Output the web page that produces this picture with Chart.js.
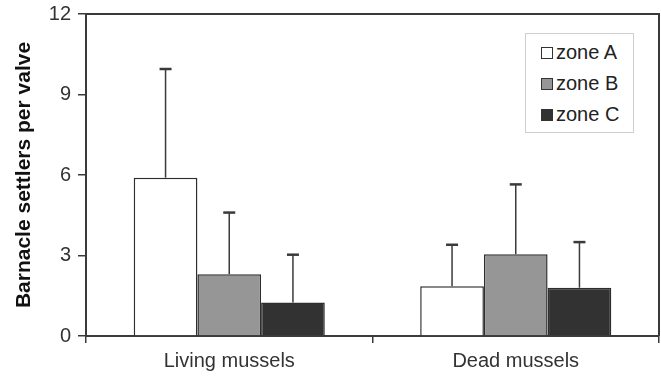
<!DOCTYPE html>
<html>
<head>
<meta charset="utf-8">
<script src="https://cdn.jsdelivr.net/npm/chart.js@4.4.1/dist/chart.umd.min.js"></script>
<style>
  html, body { margin: 0; padding: 0; background: #fff; }
  #wrap { position: relative; width: 661px; height: 380px; }
  #legend {
    position: absolute; left: 525px; top: 33px; width: 109px; height: 100px;
    border: 1px solid #cfcfcf; background: #fff; box-sizing: border-box;
    font-family: 'Liberation Sans', Arial, sans-serif; font-size: 20px; color: #222;
    padding-top: 3px;
  }
  #legend .row { display: flex; align-items: center; height: 31px; padding-left: 15px; }
  #legend .sw { width: 12px; height: 12px; border: 1.5px solid #333; box-sizing: border-box; margin-right: 3px; }
</style>
</head>
<body>
<div id="wrap">
  <canvas id="chart" width="661" height="380"></canvas>
  <div id="legend"></div>
</div>
<script>
const categories = ['Living mussels', 'Dead mussels'];
const zoneNames = ['zone A', 'zone B', 'zone C'];
const zoneA = [5.9, 1.85];
const zoneB = [2.3, 3.05];
const zoneC = [1.25, 1.8];
const errA = [4.05, 1.55];
const errB = [2.3, 2.6];
const errC = [1.78, 1.7];
const yTicks = [0, 3, 6, 9, 12];

const fills = ['#ffffff', '#969696', '#323232'];
const axisColor = '#3a3a3a';
const textColor = '#333';

// error bars, only the upper half, drawn from the bar elements
const errorBars = {
  id: 'errorBars',
  afterDatasetsDraw(chart) {
    const ctx = chart.ctx;
    const y = chart.scales.y;
    ctx.save();
    ctx.strokeStyle = '#3a3a3a';
    chart.data.datasets.forEach((ds, i) => {
      const meta = chart.getDatasetMeta(i);
      meta.data.forEach((bar, j) => {
        const yTop = y.getPixelForValue(ds.data[j] + ds.errors[j]);
        ctx.lineWidth = 1.5;
        ctx.beginPath();
        ctx.moveTo(bar.x, bar.y);
        ctx.lineTo(bar.x, yTop);
        ctx.stroke();
        ctx.lineWidth = 2.5;
        ctx.beginPath();
        ctx.moveTo(bar.x - 6, yTop);
        ctx.lineTo(bar.x + 6, yTop);
        ctx.stroke();
      });
    });
    ctx.restore();
  }
};

// top and right edges of the plot box
const frame = {
  id: 'frame',
  afterDraw(chart) {
    const { ctx, chartArea } = chart;
    ctx.save();
    ctx.strokeStyle = axisColor;
    ctx.lineWidth = 2;
    ctx.beginPath();
    ctx.moveTo(chartArea.left, chartArea.top);
    ctx.lineTo(chartArea.right, chartArea.top);
    ctx.lineTo(chartArea.right, chartArea.bottom);
    ctx.stroke();
    ctx.restore();
  }
};

const datasets = [zoneA, zoneB, zoneC].map((vals, i) => ({
  label: zoneNames[i],
  data: vals,
  errors: [errA, errB, errC][i],
  backgroundColor: fills[i],
  borderColor: '#2e2e2e',
  borderWidth: 1.5,
  borderSkipped: 'bottom',
  categoryPercentage: 0.667,
  barPercentage: 1.0
}));

const ctx = document.getElementById('chart').getContext('2d');
const chart = new Chart(ctx, {
  type: 'bar',
  data: { labels: categories, datasets: datasets },
  options: {
    responsive: false,
    animation: false,
    layout: { padding: { top: 2, right: 2, left: 0, bottom: 1 } },
    plugins: { legend: { display: false }, tooltip: { enabled: false } },
    scales: {
      x: {
        grid: { drawOnChartArea: false, drawTicks: true, tickLength: 7, color: axisColor, lineWidth: 1.5 },
        border: { color: axisColor, width: 2 },
        ticks: { color: textColor, font: { family: 'Liberation Sans', size: 20 }, padding: 6 }
      },
      y: {
        min: 0,
        max: 12,
        afterBuildTicks: (scale) => { scale.ticks = yTicks.map(v => ({ value: v })); },
        grid: { drawOnChartArea: false, drawTicks: true, tickLength: 8, color: axisColor, lineWidth: 1.5 },
        border: { color: axisColor, width: 2 },
        ticks: { color: textColor, font: { family: 'Liberation Sans', size: 20 }, padding: 7 },
        title: {
          display: true,
          text: 'Barnacle settlers per valve',
          color: '#111',
          font: { family: 'Liberation Sans', size: 21, weight: 'bold' },
          padding: { top: 12, bottom: 4 }
        },
        afterFit: (scale) => { scale.width = 86; scale.paddingTop = 14; }
      }
    }
  },
  plugins: [errorBars, frame]
});

// legend box inside the plot
const legend = document.getElementById('legend');
zoneNames.forEach((name, i) => {
  const row = document.createElement('div');
  row.className = 'row';
  const sw = document.createElement('span');
  sw.className = 'sw';
  sw.style.background = fills[i];
  const txt = document.createElement('span');
  txt.textContent = name;
  row.appendChild(sw);
  row.appendChild(txt);
  legend.appendChild(row);
});
</script>
</body>
</html>
